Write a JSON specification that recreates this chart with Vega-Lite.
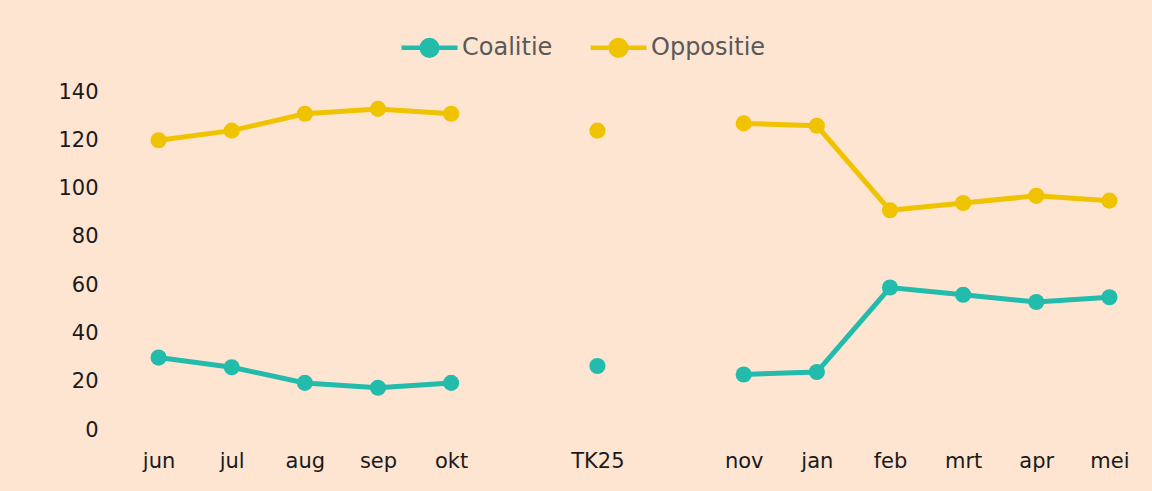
{
  "$schema": "https://vega.github.io/schema/vega-lite/v6.json",
  "width": 1024,
  "height": 338,
  "autosize": {"type": "none"},
  "padding": {"left": 122, "top": 92, "right": 6, "bottom": 61},
  "background": "#FDE5D2",
  "config": {
    "view": {"stroke": null},
    "font": "DejaVu Sans"
  },
  "data": {
    "values": [
      {"month": "jun", "series": "Coalitie", "value": 30, "seg": "a"},
      {"month": "jul", "series": "Coalitie", "value": 26, "seg": "a"},
      {"month": "aug", "series": "Coalitie", "value": 19.5, "seg": "a"},
      {"month": "sep", "series": "Coalitie", "value": 17.5, "seg": "a"},
      {"month": "okt", "series": "Coalitie", "value": 19.5, "seg": "a"},
      {"month": "TK25", "series": "Coalitie", "value": 26.5, "seg": "b"},
      {"month": "nov", "series": "Coalitie", "value": 23, "seg": "c"},
      {"month": "jan", "series": "Coalitie", "value": 24, "seg": "c"},
      {"month": "feb", "series": "Coalitie", "value": 59, "seg": "c"},
      {"month": "mrt", "series": "Coalitie", "value": 56, "seg": "c"},
      {"month": "apr", "series": "Coalitie", "value": 53, "seg": "c"},
      {"month": "mei", "series": "Coalitie", "value": 55, "seg": "c"},
      {"month": "jun", "series": "Oppositie", "value": 120, "seg": "a"},
      {"month": "jul", "series": "Oppositie", "value": 124, "seg": "a"},
      {"month": "aug", "series": "Oppositie", "value": 131, "seg": "a"},
      {"month": "sep", "series": "Oppositie", "value": 133, "seg": "a"},
      {"month": "okt", "series": "Oppositie", "value": 131, "seg": "a"},
      {"month": "TK25", "series": "Oppositie", "value": 124, "seg": "b"},
      {"month": "nov", "series": "Oppositie", "value": 127, "seg": "c"},
      {"month": "jan", "series": "Oppositie", "value": 126, "seg": "c"},
      {"month": "feb", "series": "Oppositie", "value": 91, "seg": "c"},
      {"month": "mrt", "series": "Oppositie", "value": 94, "seg": "c"},
      {"month": "apr", "series": "Oppositie", "value": 97, "seg": "c"},
      {"month": "mei", "series": "Oppositie", "value": 95, "seg": "c"}
    ]
  },
  "encoding": {
    "x": {
      "field": "month",
      "type": "nominal",
      "sort": null,
      "scale": {"type": "point", "padding": 0.5, "domain": ["jun", "jul", "aug", "sep", "okt", " ", "TK25", "  ", "nov", "jan", "feb", "mrt", "apr", "mei"]},
      "axis": {"title": null, "labelAngle": 0, "ticks": false, "domain": false, "labelFontSize": 21, "labelColor": "#1a1a1a", "labelPadding": 20, "grid": false}
    },
    "y": {
      "field": "value",
      "type": "quantitative",
      "scale": {"domain": [0, 140], "nice": false},
      "axis": {"title": null, "values": [0, 20, 40, 60, 80, 100, 120, 140], "ticks": false, "domain": false, "grid": false, "labelFontSize": 21, "labelColor": "#1a1a1a", "labelPadding": 24}
    },
    "color": {
      "field": "series",
      "type": "nominal",
      "scale": {"domain": ["Coalitie", "Oppositie"], "range": ["#22BBAC", "#F0C300"]},
      "legend": {
        "title": null,
        "orient": "none",
        "direction": "horizontal",
        "legendX": 277,
        "legendY": -75,
        "symbolType": "M-1,0H-0.28M0.28,0H1M-0.28,0A0.28,0.28 0 1,1 0.28,0A0.28,0.28 0 1,1 -0.28,0",
        "symbolSize": 3136,
        "symbolStrokeWidth": 4.5,
        "symbolOpacity": 1,
        "labelFontSize": 24,
        "labelColor": "#595959",
        "labelOffset": 2,
        "columnPadding": 28
      }
    }
  },
  "layer": [
    {
      "mark": {"type": "line", "strokeWidth": 5, "strokeCap": "round"},
      "encoding": {"detail": {"field": "seg"}}
    },
    {
      "mark": {"type": "point", "filled": true, "size": 260, "opacity": 1}
    }
  ]
}
